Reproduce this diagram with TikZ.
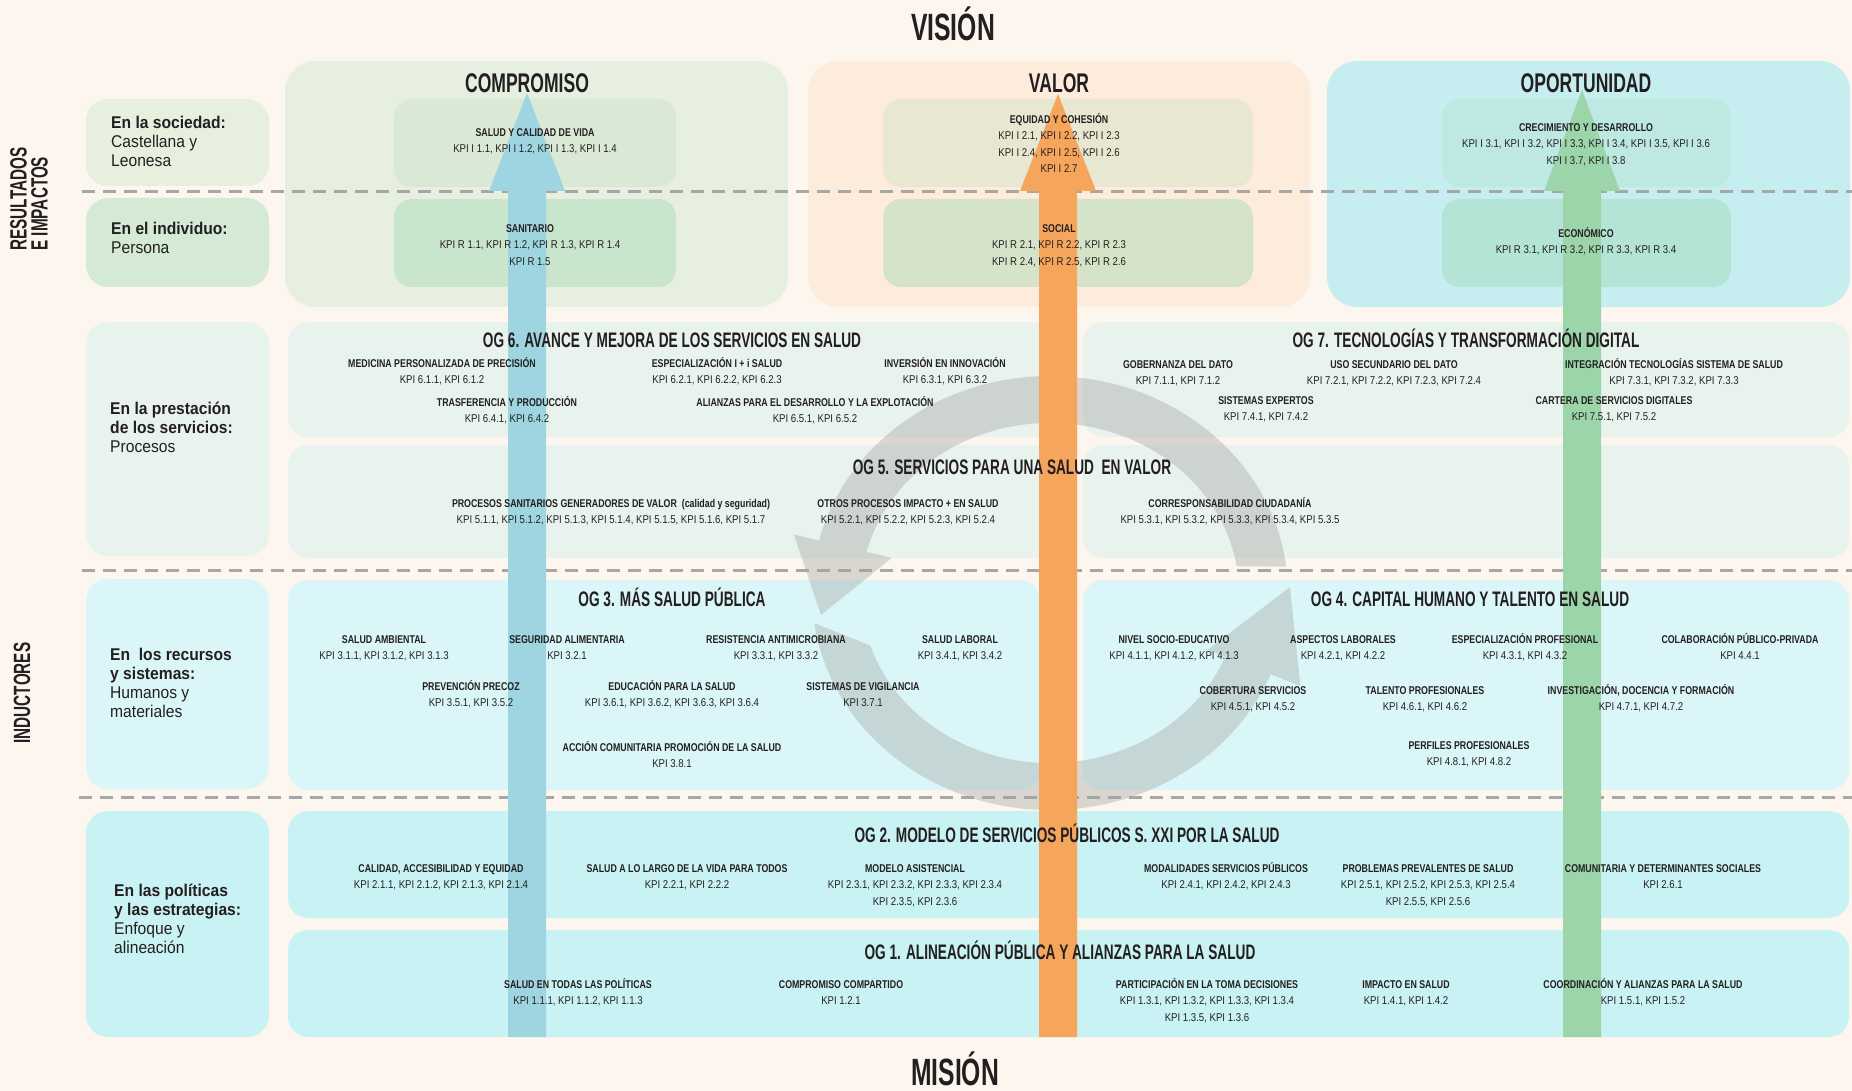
\documentclass[tikz,border=0pt]{standalone}
\usepackage{fontspec}
\setmainfont{Liberation Sans}
\newfontfamily\ttlfont[FakeStretch=0.65]{Liberation Sans}
\newfontfamily\labfont[FakeStretch=0.78]{Liberation Sans}
\newfontfamily\kpifont[FakeStretch=0.85]{Liberation Sans}
\newfontfamily\sidefont[FakeStretch=0.92]{Liberation Sans}
\usepackage{tikz}

\definecolor{bgcream}{HTML}{FDF6EF}
\definecolor{ink}{HTML}{231F20}
\definecolor{sepgray}{HTML}{A6A8A7}
\definecolor{compBg}{HTML}{E7F0E0}
\definecolor{compUp}{HTML}{DAE9D5}
\definecolor{compLo}{HTML}{C9E5CB}
\definecolor{valBg}{HTML}{FDEBDC}
\definecolor{valUp}{HTML}{E8E7D2}
\definecolor{valLo}{HTML}{D5E4C8}
\definecolor{opoBg}{HTML}{C6EEF0}
\definecolor{opoUp}{HTML}{BEE9E3}
\definecolor{opoLo}{HTML}{B4E4D5}
\definecolor{sideSoc}{HTML}{E7F0DF}
\definecolor{sideInd}{HTML}{D5EAD5}
\definecolor{procBg}{HTML}{E9F3ED}
\definecolor{recBg}{HTML}{DBF6F8}
\definecolor{polBg}{HTML}{C9F2F4}
\definecolor{arrBlue}{HTML}{9ED5E0}
\definecolor{arrOrange}{HTML}{F5A55C}
\definecolor{arrGreen}{HTML}{9DD5AB}
\definecolor{cycGray}{HTML}{A0A3A0}

\newcommand{\kpihead}[1]{{\labfont\bfseries\rule{0pt}{10.8pt}#1}}

\begin{document}
\begin{tikzpicture}[x=1pt, y=-1pt,
    colbox/.style={rounded corners=30pt},
    inbox/.style={rounded corners=18pt},
    sidebox/.style={rounded corners=22pt},
    ogbox/.style={rounded corners=20pt},
    sep/.style={draw=sepgray, line width=3pt, dash pattern=on 13pt off 8pt},
    cyclearrow/.style={fill=cycGray, fill opacity=0.38},
    kpi/.style={align=center, anchor=north, yshift=6.8pt, inner sep=0pt, text=ink, font=\kpifont\fontsize{11.3}{16.5}\selectfont},
    ogtitle/.style={inner sep=0pt, text height=15pt, text depth=0pt, text=ink, font=\ttlfont\bfseries\fontsize{21}{24}\selectfont},
    coltitle/.style={inner sep=0pt, text height=19.5pt, text depth=0pt, text=ink, font=\ttlfont\bfseries\fontsize{27}{30}\selectfont},
    bigtitle/.style={inner sep=0pt, text height=27pt, text depth=0pt, text=ink, font=\ttlfont\bfseries\fontsize{38}{42}\selectfont},
    side/.style={anchor=north west, align=left, inner sep=0pt, text=ink, font=\sidefont\fontsize{17}{19}\selectfont},
    axislabel/.style={rotate=90, align=left, inner sep=0pt, text=ink, font=\ttlfont\bfseries\fontsize{23.5}{21}\selectfont}]

    \useasboundingbox (0,0) rectangle (1852,1091);
    \fill[bgcream] (0,0) rectangle (1852,1091);

    % top blocks
    \fill[compBg, colbox] (285,61) rectangle (788,307);
    \fill[valBg, colbox] (808,61) rectangle (1310,307);
    \fill[opoBg, colbox] (1327,61) rectangle (1850,307);
    \fill[compUp, inbox] (394,99) rectangle (676,187);
    \fill[compLo, inbox] (394,199) rectangle (676,287);
    \fill[valUp, inbox] (883,99) rectangle (1253,187);
    \fill[valLo, inbox] (883,199) rectangle (1253,287);
    \fill[opoUp, inbox] (1442,99) rectangle (1731,187);
    \fill[opoLo, inbox] (1442,199) rectangle (1731,287);

    % left column
    \fill[sideSoc, sidebox] (86,99) rectangle (269,186);
    \fill[sideInd, sidebox] (86,198) rectangle (269,287);
    \fill[procBg, sidebox] (86,322) rectangle (269,556);
    \fill[recBg, sidebox] (86,579) rectangle (269,789);
    \fill[polBg, sidebox] (86,811) rectangle (269,1037);

    % objective rows
    \fill[procBg, ogbox] (288,322) rectangle (1062,437);
    \fill[procBg, ogbox] (1083,322) rectangle (1849,437);
    \fill[procBg, ogbox] (288,445) rectangle (1062,558);
    \fill[procBg, ogbox] (1083,445) rectangle (1849,558);
    \fill[recBg, ogbox] (288,580) rectangle (1040,790);
    \fill[recBg, ogbox] (1083,580) rectangle (1849,790);
    \fill[polBg, ogbox] (288,811) rectangle (1849,918);
    \fill[polBg, ogbox] (288,930) rectangle (1849,1037);

    \draw[sep] (82,192) -- (1852,192);
    \draw[sep] (82,570) -- (1852,570);
    \draw[sep] (79,797) -- (1852,797);

    % cycle arrow
    \begin{scope}[shift={(1050,593)}]
        \fill[cyclearrow] (7:238pt and 217pt) arc[start angle=7, end angle=166, x radius=238pt, y radius=217pt]
            -- (166:264pt and 242pt) -- (-229pt,-22pt) -- (166:163pt and 145pt)
            -- (166:189pt and 170pt) arc[start angle=166, end angle=9, x radius=189pt, y radius=170pt] -- cycle;
        \fill[cyclearrow] (188:238pt and 217pt) arc[start angle=188, end angle=338, x radius=238pt, y radius=217pt]
            -- (338:270pt and 248pt) -- (240pt,6pt) -- (338:170pt and 152pt)
            -- (338:189pt and 170pt) arc[start angle=338, end angle=198, x radius=189pt, y radius=170pt] -- cycle;
    \end{scope}

    % vertical arrows
    \foreach \cx/\tipy/\col in {527/93/arrBlue, 1058/94/arrOrange, 1582/90/arrGreen}
        \fill[\col] (\cx-19,1037) -- (\cx-19,191) -- (\cx-38,191) -- (\cx,\tipy) -- (\cx+38,191) -- (\cx+19,191) -- (\cx+19,1037) -- cycle;

    % titles
    \node[bigtitle] (vision) at (953,27) {VISIÓN};
    \node[bigtitle] (mision) at (955,1072) {MISIÓN};
    \node[coltitle] (comp) at (527,83) {COMPROMISO};
    \node[coltitle] (valor) at (1059,83) {VALOR};
    \node[coltitle] (opor) at (1586,83) {OPORTUNIDAD};

    \node[axislabel] (resimp) at (29,199) {RESULTADOS\\E IMPACTOS};
    \node[axislabel] (induct) at (22,693) {INDUCTORES};

    \node[side] (soc) at (111,114) {\rule{0pt}{14pt}\textbf{En la sociedad:}\\Castellana y\\Leonesa};
    \node[side] (ind) at (111,220) {\rule{0pt}{14pt}\textbf{En el individuo:}\\Persona};
    \node[side] (proc) at (110,400) {\rule{0pt}{14pt}\textbf{En la prestación}\\\textbf{de los servicios:}\\Procesos};
    \node[side] (rec) at (110,646) {\rule{0pt}{14pt}\textbf{En~ los recursos}\\\textbf{y sistemas:}\\Humanos y\\materiales};
    \node[side] (pol) at (114,882) {\rule{0pt}{14pt}\textbf{En las políticas}\\\textbf{y las estrategias:}\\Enfoque y\\alineación};

    % results and impacts
    \node[kpi] (calvida) at (535,132) {\kpihead{SALUD Y CALIDAD DE VIDA}\\KPI I 1.1, KPI I 1.2, KPI I 1.3, KPI I 1.4};
    \node[kpi] (sanit) at (530,228) {\kpihead{SANITARIO}\\KPI R 1.1, KPI R 1.2, KPI R 1.3, KPI R 1.4\\KPI R 1.5};
    \node[kpi] (equid) at (1059,119) {\kpihead{EQUIDAD Y COHESIÓN}\\KPI I 2.1, KPI I 2.2, KPI I 2.3\\KPI I 2.4, KPI I 2.5, KPI I 2.6\\KPI I 2.7};
    \node[kpi] (social) at (1059,228) {\kpihead{SOCIAL}\\KPI R 2.1, KPI R 2.2, KPI R 2.3\\KPI R 2.4, KPI R 2.5, KPI R 2.6};
    \node[kpi] (crec) at (1586,127) {\kpihead{CRECIMIENTO Y DESARROLLO}\\KPI I 3.1, KPI I 3.2, KPI I 3.3, KPI I 3.4, KPI I 3.5, KPI I 3.6\\KPI I 3.7, KPI I 3.8};
    \node[kpi] (econ) at (1586,233) {\kpihead{ECONÓMICO}\\KPI R 3.1, KPI R 3.2, KPI R 3.3, KPI R 3.4};

    % OG 6
    \node[ogtitle] (og6) at (672,340) {OG 6. AVANCE Y MEJORA DE LOS SERVICIOS EN SALUD};
    \node[kpi] (med) at (442,363) {\kpihead{MEDICINA PERSONALIZADA DE PRECISIÓN}\\KPI 6.1.1, KPI 6.1.2};
    \node[kpi] (espi) at (717,363) {\kpihead{ESPECIALIZACIÓN I + i SALUD}\\KPI 6.2.1, KPI 6.2.2, KPI 6.2.3};
    \node[kpi] (inver) at (945,363) {\kpihead{INVERSIÓN EN INNOVACIÓN}\\KPI 6.3.1, KPI 6.3.2};
    \node[kpi] (trasf) at (507,402) {\kpihead{TRASFERENCIA Y PRODUCCIÓN}\\KPI 6.4.1, KPI 6.4.2};
    \node[kpi] (alian) at (815,402) {\kpihead{ALIANZAS PARA EL DESARROLLO Y LA EXPLOTACIÓN}\\KPI 6.5.1, KPI 6.5.2};

    % OG 7
    \node[ogtitle] (og7) at (1466,340) {OG 7. TECNOLOGÍAS Y TRANSFORMACIÓN DIGITAL};
    \node[kpi] (gober) at (1178,364) {\kpihead{GOBERNANZA DEL DATO}\\KPI 7.1.1, KPI 7.1.2};
    \node[kpi] (usosec) at (1394,364) {\kpihead{USO SECUNDARIO DEL DATO}\\KPI 7.2.1, KPI 7.2.2, KPI 7.2.3, KPI 7.2.4};
    \node[kpi] (integ) at (1674,364) {\kpihead{INTEGRACIÓN TECNOLOGÍAS SISTEMA DE SALUD}\\KPI 7.3.1, KPI 7.3.2, KPI 7.3.3};
    \node[kpi] (sisexp) at (1266,400) {\kpihead{SISTEMAS EXPERTOS}\\KPI 7.4.1, KPI 7.4.2};
    \node[kpi] (cartera) at (1614,400) {\kpihead{CARTERA DE SERVICIOS DIGITALES}\\KPI 7.5.1, KPI 7.5.2};

    % OG 5
    \node[ogtitle] (og5) at (1012,467) {OG 5. SERVICIOS PARA UNA SALUD~ EN VALOR};
    \node[kpi] (procsan) at (611,503) {\kpihead{PROCESOS SANITARIOS GENERADORES DE VALOR~ (calidad y seguridad)}\\KPI 5.1.1, KPI 5.1.2, KPI 5.1.3, KPI 5.1.4, KPI 5.1.5, KPI 5.1.6, KPI 5.1.7};
    \node[kpi] (otros) at (908,503) {\kpihead{OTROS PROCESOS IMPACTO + EN SALUD}\\KPI 5.2.1, KPI 5.2.2, KPI 5.2.3, KPI 5.2.4};
    \node[kpi] (corresp) at (1230,503) {\kpihead{CORRESPONSABILIDAD CIUDADANÍA}\\KPI 5.3.1, KPI 5.3.2, KPI 5.3.3, KPI 5.3.4, KPI 5.3.5};

    % OG 3
    \node[ogtitle] (og3) at (672,599) {OG 3. MÁS SALUD PÚBLICA};
    \node[kpi] (ambien) at (384,639) {\kpihead{SALUD AMBIENTAL}\\KPI 3.1.1, KPI 3.1.2, KPI 3.1.3};
    \node[kpi] (segali) at (567,639) {\kpihead{SEGURIDAD ALIMENTARIA}\\KPI 3.2.1};
    \node[kpi] (resist) at (776,639) {\kpihead{RESISTENCIA ANTIMICROBIANA}\\KPI 3.3.1, KPI 3.3.2};
    \node[kpi] (laboral) at (960,639) {\kpihead{SALUD LABORAL}\\KPI 3.4.1, KPI 3.4.2};
    \node[kpi] (prevenc) at (471,686) {\kpihead{PREVENCIÓN PRECOZ}\\KPI 3.5.1, KPI 3.5.2};
    \node[kpi] (educ) at (672,686) {\kpihead{EDUCACIÓN PARA LA SALUD}\\KPI 3.6.1, KPI 3.6.2, KPI 3.6.3, KPI 3.6.4};
    \node[kpi] (vigil) at (863,686) {\kpihead{SISTEMAS DE VIGILANCIA}\\KPI 3.7.1};
    \node[kpi] (accion) at (672,747) {\kpihead{ACCIÓN COMUNITARIA PROMOCIÓN DE LA SALUD}\\KPI 3.8.1};

    % OG 4
    \node[ogtitle] (og4) at (1470,599) {OG 4. CAPITAL HUMANO Y TALENTO EN SALUD};
    \node[kpi] (nivel) at (1174,639) {\kpihead{NIVEL SOCIO-EDUCATIVO}\\KPI 4.1.1, KPI 4.1.2, KPI 4.1.3};
    \node[kpi] (aspect) at (1343,639) {\kpihead{ASPECTOS LABORALES}\\KPI 4.2.1, KPI 4.2.2};
    \node[kpi] (esppro) at (1525,639) {\kpihead{ESPECIALIZACIÓN PROFESIONAL}\\KPI 4.3.1, KPI 4.3.2};
    \node[kpi] (colab) at (1740,639) {\kpihead{COLABORACIÓN PÚBLICO-PRIVADA}\\KPI 4.4.1};
    \node[kpi] (cobert) at (1253,690) {\kpihead{COBERTURA SERVICIOS}\\KPI 4.5.1, KPI 4.5.2};
    \node[kpi] (talento) at (1425,690) {\kpihead{TALENTO PROFESIONALES}\\KPI 4.6.1, KPI 4.6.2};
    \node[kpi] (investig) at (1641,690) {\kpihead{INVESTIGACIÓN, DOCENCIA Y FORMACIÓN}\\KPI 4.7.1, KPI 4.7.2};
    \node[kpi] (perfil) at (1469,745) {\kpihead{PERFILES PROFESIONALES}\\KPI 4.8.1, KPI 4.8.2};

    % OG 2
    \node[ogtitle] (og2) at (1067,835) {OG 2. MODELO DE SERVICIOS PÚBLICOS S. XXI POR LA SALUD};
    \node[kpi] (calid) at (441,868) {\kpihead{CALIDAD, ACCESIBILIDAD Y EQUIDAD}\\KPI 2.1.1, KPI 2.1.2, KPI 2.1.3, KPI 2.1.4};
    \node[kpi] (largo) at (687,868) {\kpihead{SALUD A LO LARGO DE LA VIDA PARA TODOS}\\KPI 2.2.1, KPI 2.2.2};
    \node[kpi] (modasis) at (915,868) {\kpihead{MODELO ASISTENCIAL}\\KPI 2.3.1, KPI 2.3.2, KPI 2.3.3, KPI 2.3.4\\KPI 2.3.5, KPI 2.3.6};
    \node[kpi] (modal) at (1226,868) {\kpihead{MODALIDADES SERVICIOS PÚBLICOS}\\KPI 2.4.1, KPI 2.4.2, KPI 2.4.3};
    \node[kpi] (prevalen) at (1428,868) {\kpihead{PROBLEMAS PREVALENTES DE SALUD}\\KPI 2.5.1, KPI 2.5.2, KPI 2.5.3, KPI 2.5.4\\KPI 2.5.5, KPI 2.5.6};
    \node[kpi] (comunit) at (1663,868) {\kpihead{COMUNITARIA Y DETERMINANTES SOCIALES}\\KPI 2.6.1};

    % OG 1
    \node[ogtitle] (og1) at (1060,952) {OG 1. ALINEACIÓN PÚBLICA Y ALIANZAS PARA LA SALUD};
    \node[kpi] (todas) at (578,984) {\kpihead{SALUD EN TODAS LAS POLÍTICAS}\\KPI 1.1.1, KPI 1.1.2, KPI 1.1.3};
    \node[kpi] (compart) at (841,984) {\kpihead{COMPROMISO COMPARTIDO}\\KPI 1.2.1};
    \node[kpi] (partic) at (1207,984) {\kpihead{PARTICIPACIÓN EN LA TOMA DECISIONES}\\KPI 1.3.1, KPI 1.3.2, KPI 1.3.3, KPI 1.3.4\\KPI 1.3.5, KPI 1.3.6};
    \node[kpi] (impacto) at (1406,984) {\kpihead{IMPACTO EN SALUD}\\KPI 1.4.1, KPI 1.4.2};
    \node[kpi] (coord) at (1643,984) {\kpihead{COORDINACIÓN Y ALIANZAS PARA LA SALUD}\\KPI 1.5.1, KPI 1.5.2};
\end{tikzpicture}
\end{document}
